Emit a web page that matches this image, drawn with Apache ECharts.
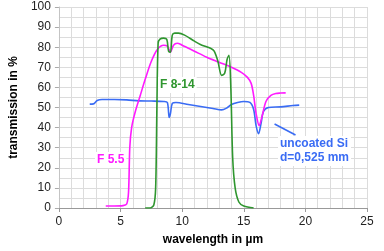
<!DOCTYPE html>
<html>
<head>
<meta charset="utf-8">
<script src="https://cdn.jsdelivr.net/npm/echarts@6/dist/echarts.min.js"></script>
<style>html,body{margin:0;padding:0;background:#fff}#c{width:384px;height:251px}</style>
</head>
<body>
<div id="c"></div>
<script>
var siX = [2.5, 2.8, 3.1, 3.5, 4.5, 5.5, 6.5, 7.5, 8.5, 8.8, 8.95, 9.05, 9.2, 9.5, 10.5, 11.5, 12.5, 13.2, 13.6, 14.0, 14.5, 15.0, 15.5, 15.8, 16.0, 16.2, 16.4, 16.6, 17.0, 18.0, 19.0, 19.5];
var siY = [51.7, 51.8, 53.5, 54, 54, 53.8, 53.3, 53.2, 53, 52.5, 45, 47, 52, 52.5, 51.5, 50.5, 49.5, 48.8, 49.7, 51.5, 52.5, 53, 52.5, 49, 41, 37, 42, 48, 50, 50.3, 51, 51.2];

var f55X = [3.8, 4.5, 5.2, 5.5, 5.65, 5.75, 5.9, 6.2, 6.6, 7.0, 7.5, 8.0, 8.5, 8.8, 9.05, 9.3, 9.6, 10.0, 11.0, 12.0, 13.0, 14.0, 14.8, 15.3, 15.6, 15.8, 16.0, 16.25, 16.5, 16.8, 17.2, 17.6, 18.0, 18.4];
var f55Y = [1, 1, 1.2, 2, 8, 30, 40, 48, 56, 64, 73, 79, 81, 80.5, 77.5, 81, 82, 81, 78, 75, 72.5, 70, 67.5, 65, 62, 56, 47, 41, 46, 53, 56, 57, 57.2, 57.3];

var f814X = [7.0, 7.4, 7.7, 7.85, 7.95, 8.05, 8.2, 8.5, 8.75, 8.9, 9.05, 9.2, 9.4, 9.7, 10.2, 11.0, 11.6, 12.3, 12.6, 12.9, 13.2, 13.45, 13.65, 13.8, 13.95, 14.1, 14.3, 14.6, 15.0, 15.8];
var f814Y = [0, 0, 1.5, 10, 50, 82, 84, 84.5, 84, 78, 77.5, 86, 87, 87, 86, 83, 81, 79.5, 78, 73, 66, 67, 74, 76, 60, 25, 10, 3, 1, 0];

var pointerX = [17.5, 19.2];
var pointerY = [41.8, 36.3];

var xTicks = [0, 5, 10, 15, 20, 25];
var yTicks = [0, 10, 20, 30, 40, 50, 60, 70, 80, 90, 100];

function zip(a, b) { return a.map(function (v, i) { return [v, b[i]]; }); }

var BLUE = '#3a6cf4', MAG = '#ff1aff', GREEN = '#2f962f';
var FONT = 'Liberation Sans';

function label(text, color, left, top) {
  return {
    type: 'text', left: left, top: top, z: 100,
    style: {
      text: text, fill: color, fontFamily: FONT, fontWeight: 'bold', fontSize: 12,
      lineHeight: 14, backgroundColor: '#fff', padding: [1, 2]
    }
  };
}

var chart = echarts.init(document.getElementById('c'));
chart.setOption({
  animation: false,
  textStyle: { fontFamily: FONT },
  grid: { left: 56, right: 17, top: 7, bottom: 43 },
  xAxis: {
    type: 'value', min: xTicks[0], max: xTicks[xTicks.length - 1], interval: 5,
    name: 'wavelength in µm', nameLocation: 'middle', nameGap: 26,
    nameTextStyle: { fontSize: 12, fontWeight: 'bold', color: '#000', fontFamily: FONT },
    axisLine: { show: true, lineStyle: { color: '#999', width: 1 } },
    axisTick: { show: true, length: 4, lineStyle: { color: '#999' } },
    axisLabel: { fontSize: 12, color: '#222', margin: 8, fontFamily: FONT },
    splitLine: { show: true, lineStyle: { color: '#dcdcdc' } },
    minorTick: { show: false, splitNumber: 5 },
    minorSplitLine: { show: true, lineStyle: { color: '#dcdcdc' } }
  },
  yAxis: {
    type: 'value', min: yTicks[0], max: yTicks[yTicks.length - 1], interval: 10,
    name: 'transmission in %', nameLocation: 'middle', nameGap: 38, nameRotate: 90,
    nameTextStyle: { fontSize: 12, fontWeight: 'bold', color: '#000', fontFamily: FONT },
    axisLine: { show: true, lineStyle: { color: '#c4c4c4', width: 1 } },
    axisTick: { show: true, length: 4, lineStyle: { color: '#aaa' } },
    axisLabel: { fontSize: 12, color: '#222', margin: 8, fontFamily: FONT },
    splitLine: { show: true, lineStyle: { color: '#dcdcdc' } },
    minorTick: { show: false, splitNumber: 2 },
    minorSplitLine: { show: true, lineStyle: { color: '#dcdcdc' } }
  },
  series: [
    { type: 'line', data: zip(siX, siY), smooth: 0.3, showSymbol: false, lineStyle: { color: BLUE, width: 1.6 } },
    { type: 'line', data: zip(f55X, f55Y), smooth: 0.3, showSymbol: false, lineStyle: { color: MAG, width: 1.6 } },
    { type: 'line', data: zip(f814X, f814Y), smooth: 0.3, showSymbol: false, lineStyle: { color: GREEN, width: 1.6 } },
    { type: 'line', data: zip(pointerX, pointerY), showSymbol: false, lineStyle: { color: BLUE, width: 1.6 } }
  ],
  graphic: [
    label('F 8-14', GREEN, 158, 77),
    label('F 5.5', MAG, 95, 152),
    label('uncoated Si\nd=0,525 mm', BLUE, 278, 136)
  ]
});
</script>
</body>
</html>
